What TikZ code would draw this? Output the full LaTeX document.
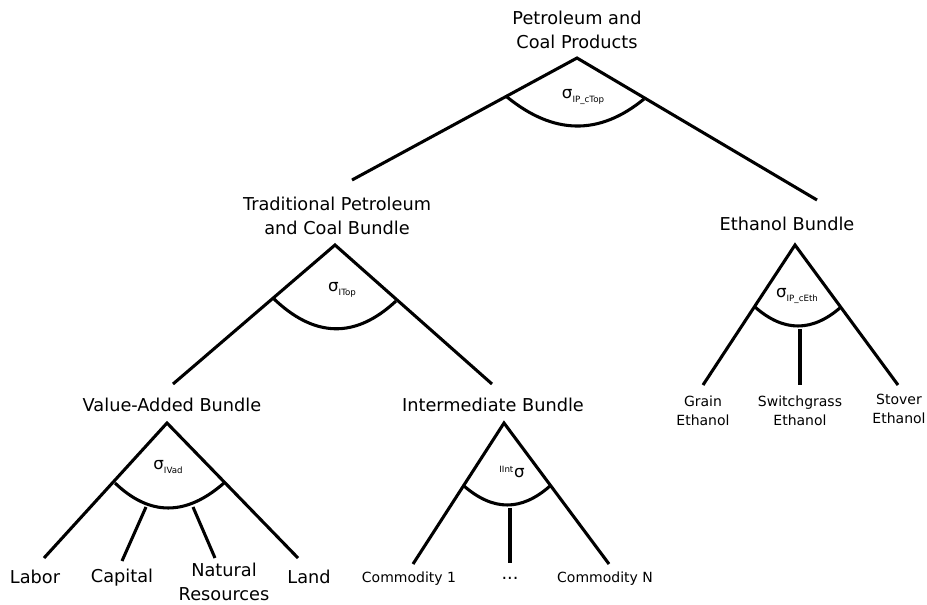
\documentclass[tikz,border=0pt]{standalone}
\usepackage{fontspec}
\setmainfont{DejaVu Sans}
\newcommand{\sig}[1]{σ\raisebox{-0.45ex}{\fontsize{6.5}{7}\selectfont #1}}
\begin{document}
\begin{tikzpicture}[
                x=0.75pt, y=-0.75pt,
                rotulo/.style={align=center, font=\fontsize{13.3}{18.3}\selectfont, inner sep=0pt},
                folha/.style={align=center, font=\fontsize{10.5}{14.5}\selectfont, inner sep=0pt},
                sigma/.style={font=\fontsize{12.5}{14}\selectfont, inner sep=0pt},
                aresta/.style={line width=2.3pt},
                arco/.style={line width=2.3pt},
            ]
            \useasboundingbox (0, 0) rectangle (927, 604);

            % topo
            \node[rotulo] (pc) at (577, 30) {Petroleum and\\Coal Products};
            \coordinate (pcv) at (577, 58);
            \coordinate (pcl) at (352, 180);
            \coordinate (pcr) at (817, 200);
            \node[sigma] (spc) at (583, 97) {\sig{IP\_cTop}};

            % tradicional
            \node[rotulo] (tr) at (337, 216) {Traditional Petroleum\\and Coal Bundle};
            \coordinate (trv) at (335, 245);
            \coordinate (trl) at (173, 384);
            \coordinate (trr) at (492, 384);
            \node[sigma] (str) at (342, 290) {\sig{ITop}};

            % etanol
            \node[rotulo] (et) at (787, 224) {Ethanol Bundle};
            \coordinate (etv) at (795, 245);
            \coordinate (etl) at (703, 385);
            \coordinate (etm) at (800, 385);
            \coordinate (etm0) at (800, 329);
            \coordinate (etr) at (898, 385);
            \node[sigma] (set) at (797, 296) {\sig{IP\_cEth}};
            \node[folha] (ge) at (703, 411) {Grain\\Ethanol};
            \node[folha] (se) at (800, 411) {Switchgrass\\Ethanol};
            \node[folha] (ste) at (899, 409) {Stover\\Ethanol};

            % valor adicionado
            \node[rotulo] (va) at (172, 405) {Value-Added Bundle};
            \coordinate (vav) at (167, 423);
            \coordinate (val) at (44, 558);
            \coordinate (vac0) at (146, 507);
            \coordinate (vac) at (122, 561);
            \coordinate (van0) at (193, 507);
            \coordinate (van) at (215, 558);
            \coordinate (var) at (298, 558);
            \node[sigma] (sva) at (168, 467) {\sig{IVad}};
            \node[rotulo] (lab) at (35, 577) {Labor};
            \node[rotulo] (cap) at (122, 578) {Capital};
            \node[rotulo] (nat) at (224, 582) {Natural\\Resources};
            \node[rotulo] (lan) at (309, 577) {Land};

            % intermediario
            \node[rotulo] (in) at (493, 405) {Intermediate Bundle};
            \coordinate (inv) at (504, 423);
            \coordinate (inl) at (413, 564);
            \coordinate (inm0) at (510, 508);
            \coordinate (inm) at (510, 563);
            \coordinate (inr) at (609, 564);
            \node[sigma] (sin) at (512, 472) {\textsuperscript{\fontsize{6.5}{7}\selectfont IInt}σ};
            \node[folha] (c1) at (409, 579) {Commodity 1};
            \node[rotulo] (cd) at (510, 578) {...};
            \node[folha] (cn) at (605, 579) {Commodity N};

            \draw[aresta, line join=miter] (pcl) -- (pcv) -- (pcr);
            \draw[arco] (507, 97) .. controls (553.7, 135) and (599.3, 135.7) .. (644, 99);

            \draw[aresta] (trl) -- (trv) -- (trr);
            \draw[arco] (273, 298) .. controls (314.3, 338) and (355.3, 339) .. (396, 301);

            \draw[aresta] (etl) -- (etv) -- (etr);
            \draw[aresta] (etm0) -- (etm);
            \draw[arco] (755, 307) .. controls (783.7, 332.3) and (812.3, 332.3) .. (841, 307);

            \draw[aresta] (val) -- (vav) -- (var);
            \draw[aresta] (vac0) -- (vac);
            \draw[aresta] (van0) -- (van);
            \draw[arco] (115, 483) .. controls (149.7, 516.3) and (186, 516.3) .. (224, 483);

            \draw[aresta] (inl) -- (inv) -- (inr);
            \draw[aresta] (inm0) -- (inm);
            \draw[arco] (464, 486) .. controls (493.3, 511.3) and (521.3, 511.3) .. (550, 486);
        \end{tikzpicture}
\end{document}
